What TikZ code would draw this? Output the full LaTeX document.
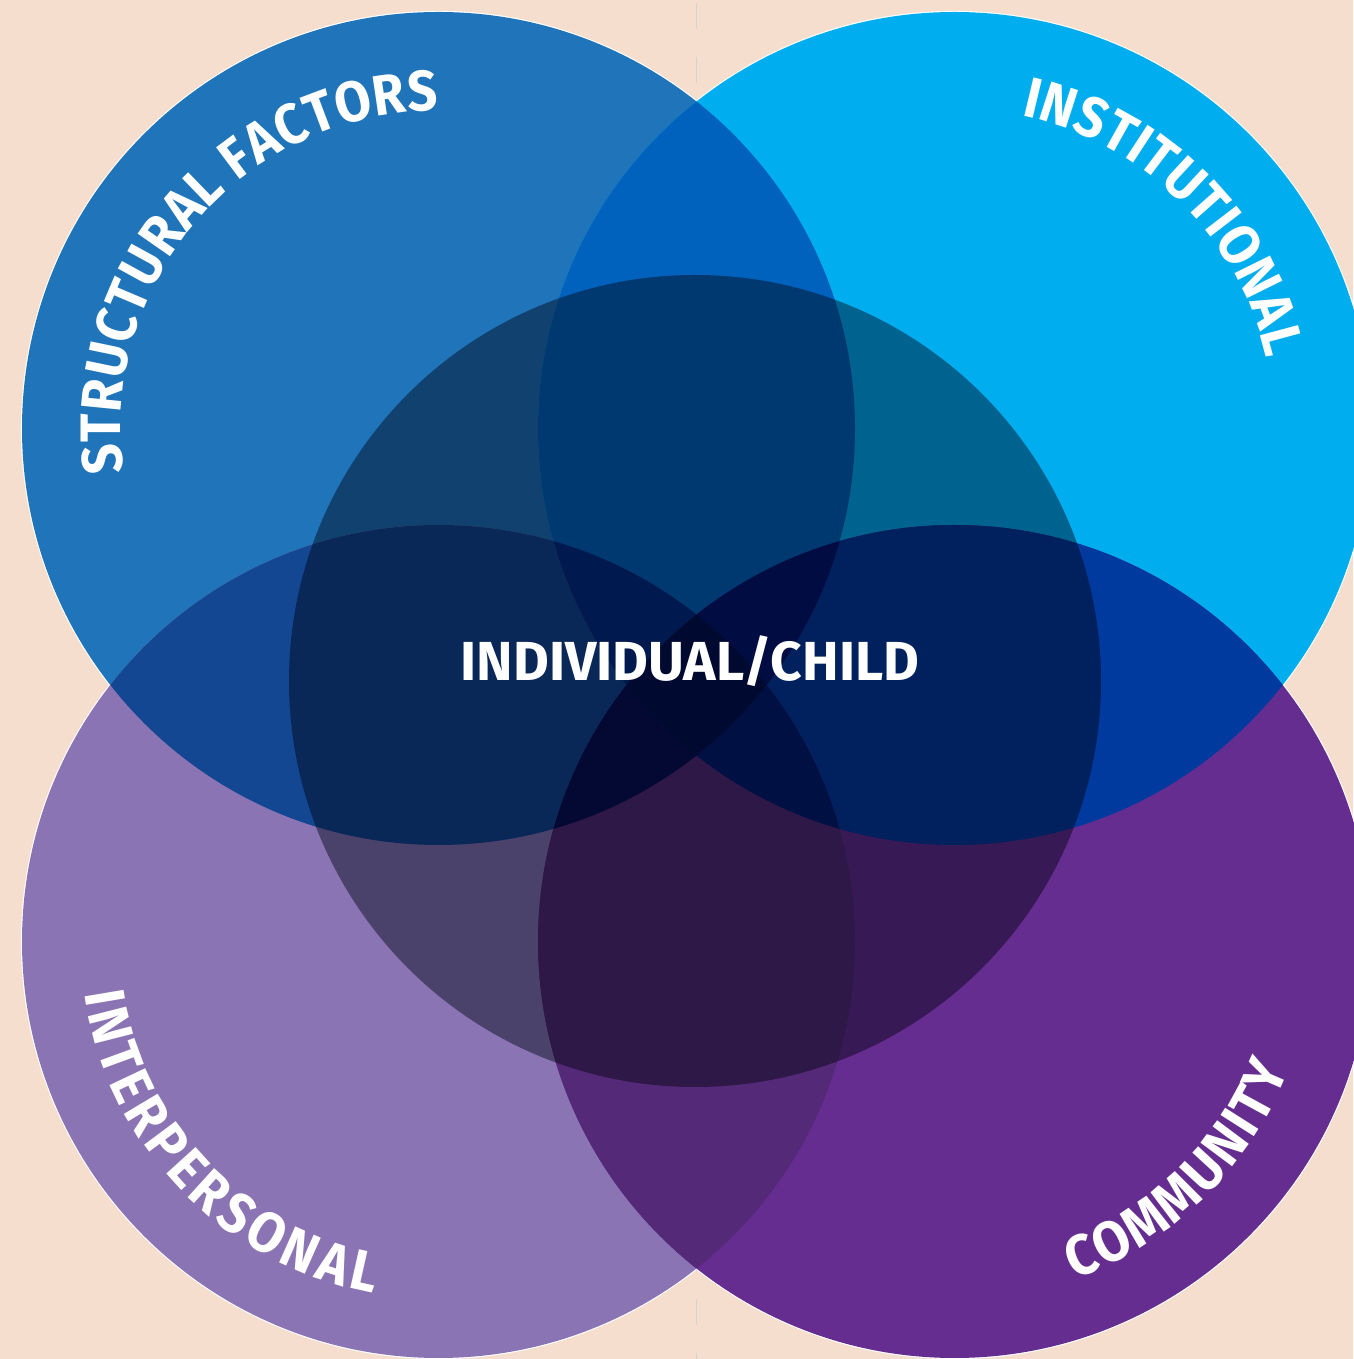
\documentclass[tikz,border=0pt]{standalone}
\usepackage{fontspec}
\setmainfont{Fira Sans}
\newfontfamily\arcfam{Fira Sans}[FakeStretch=0.92]
\usetikzlibrary{decorations.text}
\definecolor{bgpeach}{RGB}{245,222,206}
\definecolor{cblue}{RGB}{31,116,186}
\definecolor{ccyan}{RGB}{0,174,239}
\definecolor{clav}{RGB}{138,116,180}
\definecolor{cpurple}{RGB}{101,45,144}
\definecolor{ptop}{RGB}{0,98,188}
\definecolor{pleft}{RGB}{19,71,146}
\definecolor{pright}{RGB}{0,58,158}
\definecolor{pbottom}{RGB}{84,42,120}
\definecolor{dtlbr}{RGB}{15,28,112}
\definecolor{dtrbl}{RGB}{0,85,175}
\definecolor{tabc}{RGB}{0,44,130}
\definecolor{tabd}{RGB}{0,22,110}
\definecolor{tacd}{RGB}{9,16,86}
\definecolor{tbcd}{RGB}{0,28,112}
\definecolor{quadc}{RGB}{0,16,80}
\definecolor{cmid}{RGB}{140,146,153}
\definecolor{dashgray}{RGB}{214,210,212}
\newcommand\lblfont{\arcfam\fontsize{57}{57}\selectfont\bfseries}
\newcommand\centrefont{\fontsize{55}{55}\selectfont\bfseries}
\tikzset{
  rimcircle/.style={fill=white},
  midcircle/.style={fill=cmid, blend mode=multiply},
  arclabel/.style={decorate, decoration={text along path, text align=fit to path, text color=white, text={|\lblfont|#1}}}
}
\begin{document}
\begin{tikzpicture}[x=1pt,y=1pt]
\useasboundingbox (0,0) rectangle (1353,1359);
\fill[bgpeach] (0,0) rectangle (1353,1359);
\coordinate (tl) at (438.5,930.5);
\coordinate (tr) at (954.5,930.5);
\coordinate (bl) at (438.5,417.5);
\coordinate (br) at (954.5,417.5);
\coordinate (mid) at (695,678);
\coordinate (dtop) at (696.5,1359);
\coordinate (dbot) at (696.5,0);
\coordinate (boxa) at (0,0);
\coordinate (boxb) at (1353,1359);
\draw[dashgray, line width=1.5pt, dash pattern=on 26pt off 28pt, dash phase=51pt] (dtop) -- (dbot);
% white underlay (thin white rim)
\foreach \c in {tl,tr,bl,br} \fill[rimcircle] (\c) circle[radius=417.6pt];
% single circles
\fill[cblue] (tl) circle[radius=416.5pt];
\fill[ccyan] (tr) circle[radius=416.5pt];
\fill[clav] (bl) circle[radius=416.5pt];
\fill[cpurple] (br) circle[radius=416.5pt];
% pair overlaps (outside the other two circles)
\begin{scope}
  \clip (tl) circle[radius=416.5pt]; \clip (tr) circle[radius=416.5pt];
  \fill[ptop, even odd rule] (boxa) rectangle (boxb) (bl) circle[radius=416.5pt] (br) circle[radius=416.5pt];
\end{scope}
\begin{scope}
  \clip (tl) circle[radius=416.5pt]; \clip (bl) circle[radius=416.5pt];
  \fill[pleft, even odd rule] (boxa) rectangle (boxb) (tr) circle[radius=416.5pt] (br) circle[radius=416.5pt];
\end{scope}
\begin{scope}
  \clip (tr) circle[radius=416.5pt]; \clip (br) circle[radius=416.5pt];
  \fill[pright, even odd rule] (boxa) rectangle (boxb) (tl) circle[radius=416.5pt] (bl) circle[radius=416.5pt];
\end{scope}
\begin{scope}
  \clip (bl) circle[radius=416.5pt]; \clip (br) circle[radius=416.5pt];
  \fill[pbottom, even odd rule] (boxa) rectangle (boxb) (tl) circle[radius=416.5pt] (tr) circle[radius=416.5pt];
\end{scope}
\begin{scope}
  \clip (tl) circle[radius=416.5pt]; \clip (br) circle[radius=416.5pt];
  \fill[dtlbr, even odd rule] (boxa) rectangle (boxb) (tr) circle[radius=416.5pt] (bl) circle[radius=416.5pt];
\end{scope}
\begin{scope}
  \clip (tr) circle[radius=416.5pt]; \clip (bl) circle[radius=416.5pt];
  \fill[dtrbl, even odd rule] (boxa) rectangle (boxb) (tl) circle[radius=416.5pt] (br) circle[radius=416.5pt];
\end{scope}
% triple overlaps
\begin{scope}
  \clip (tl) circle[radius=416.5pt]; \clip (tr) circle[radius=416.5pt]; \clip (bl) circle[radius=416.5pt];
  \fill[tabc, even odd rule] (boxa) rectangle (boxb) (br) circle[radius=416.5pt];
\end{scope}
\begin{scope}
  \clip (tl) circle[radius=416.5pt]; \clip (tr) circle[radius=416.5pt]; \clip (br) circle[radius=416.5pt];
  \fill[tabd, even odd rule] (boxa) rectangle (boxb) (bl) circle[radius=416.5pt];
\end{scope}
\begin{scope}
  \clip (tl) circle[radius=416.5pt]; \clip (bl) circle[radius=416.5pt]; \clip (br) circle[radius=416.5pt];
  \fill[tacd, even odd rule] (boxa) rectangle (boxb) (tr) circle[radius=416.5pt];
\end{scope}
\begin{scope}
  \clip (tr) circle[radius=416.5pt]; \clip (bl) circle[radius=416.5pt]; \clip (br) circle[radius=416.5pt];
  \fill[tbcd, even odd rule] (boxa) rectangle (boxb) (tl) circle[radius=416.5pt];
\end{scope}
% four-fold overlap
\begin{scope}
  \clip (tl) circle[radius=416.5pt]; \clip (tr) circle[radius=416.5pt];
  \clip (bl) circle[radius=416.5pt]; \clip (br) circle[radius=416.5pt];
  \fill[quadc] (boxa) rectangle (boxb);
\end{scope}
% central circle, multiplied
\fill[midcircle] (mid) circle[radius=406pt];
% labels
\path[arclabel=STRUCTURAL FACTORS, shift={(tl)}] (188:318pt) arc[start angle=188, end angle=90, radius=318pt];
\path[arclabel=INSTITUTIONAL, shift={(tr)}] (78:320pt) arc[start angle=78, end angle=12.7, radius=320pt];
\path[arclabel=INTERPERSONAL, shift={(bl)}] (188.3:358pt) arc[start angle=188.3, end angle=259.5, radius=358pt];
\path[arclabel=COMMUNITY, shift={(br)}] (289.5:358pt) arc[start angle=289.5, end angle=339, radius=358pt];
\node[font=\centrefont, text=white, anchor=base, inner sep=0pt] (centre) at (690,678) {INDIVIDUAL/CHILD};
\end{tikzpicture}
\end{document}
